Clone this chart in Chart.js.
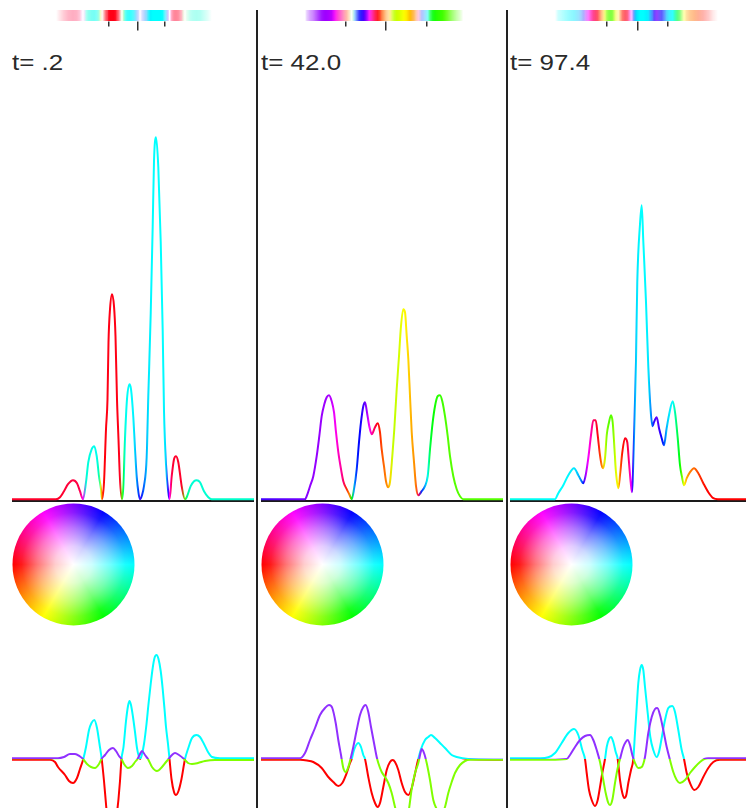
<!DOCTYPE html>
<html>
<head>
<meta charset="utf-8">
<script src="https://cdn.jsdelivr.net/npm/chart.js@4.4.1/dist/chart.umd.min.js"></script>
<style>
  html, body { margin: 0; padding: 0; background: #fff; }
  body { width: 746px; height: 808px; position: relative; overflow: hidden; }
  canvas, .sep, .time { position: absolute; }
  .sep { top: 10px; width: 2px; height: 798px; background: #222; }
  .time {
    top: 52px; color: #2a2a2a; white-space: nowrap;
    font: 22px/22px "Liberation Sans", Arial, sans-serif;
    transform: scaleX(1.18); transform-origin: 0 0;
  }
</style>
</head>
<body>
<div class="sep" style="left:256px"></div>
<div class="sep" style="left:506px"></div>
<script>
// Three snapshots of a wave packet. Top: probability density, coloured by phase,
// with a phase strip above it. Bottom: real part (cyan/red) and imaginary part
// (purple/green) of the wave function.

const timeLabels = ['t= .2', 't= 42.0', 't= 97.4'];

// --- snapshot 1 ---
const pos1 = [0, 44, 48, 52, 56, 61, 65, 68, 71, 74, 76.3, 79.7, 82.3, 84.7, 87, 89, 90, 92, 94, 95.5, 96.5, 98, 100, 102, 103.5, 105, 106.5, 108, 110, 111.5, 113, 115, 117.5, 119, 121.3, 123, 124.7, 126.5, 128, 130, 132, 134.7, 136.3, 138.7, 140.7, 142, 144, 146.3, 148.7, 150.7, 152, 154, 156.3, 157.5, 159.7, 162, 164, 166.3, 169.7, 173, 174.7, 178.7, 182, 184.7, 188, 192, 196.3, 199.7, 242];
const density1 = [0, 0, 2, 8, 15, 19, 16, 8, 0, 17, 37, 50, 53, 43, 23, 10, 0, 17, 70, 100, 157, 190, 205, 193, 163, 100, 60, 20, 0, 15, 60, 100, 115, 110, 82, 50, 22, 6, 0, 4, 13, 42, 102, 185, 273, 338, 362, 332, 258, 168, 88, 35, 7, 0, 23, 40, 43, 37, 13, 0, 2, 13, 18, 19, 17, 8, 2, 0, 0];
const hue1 = [350, 350, 350, 348, 346, 345, 345, 340, 300, 170, 172, 175, 176, 176, 160, 60, 20, 358, 356, 355, 355, 355, 355, 355, 355, 355, 355, 350, 100, 140, 175, 178, 180, 180, 182, 190, 205, 225, 260, 230, 215, 195, 185, 182, 180, 180, 180, 180, 180, 180, 182, 190, 250, 300, 345, 350, 350, 350, 350, 100, 150, 170, 170, 170, 170, 170, 168, 168, 168];
const rePos1 = [0, 38, 43, 46, 53, 57, 61, 65, 68, 71.3, 74, 77, 79.5, 82.3, 85, 87.5, 89.7, 92, 94, 96, 98, 100, 102, 103.5, 105, 106.5, 108, 109.5, 111.5, 114, 116, 117.5, 119, 121, 123, 125, 128, 129.5, 132, 134.5, 136.5, 138.7, 140.7, 142.5, 144.5, 146.5, 148.7, 150.7, 152.5, 154, 156, 157.5, 159.5, 162, 164, 166.5, 169.5, 173, 176, 180, 184.5, 188, 192, 196, 200, 208, 242];
const re1 = [-0.8, -0.8, -3, -8, -16, -22, -24, -19, -10, 0, 12, 29, 36, 39, 31, 15, 0, -22, -45, -66, -75, -78, -76, -70, -54, -40, -22, 0, 12, 38, 53, 58, 54, 42, 27, 11, 0, 3, 15, 35, 55, 75, 91, 101, 104, 100, 88, 70, 50, 32, 15, 0, -20, -33, -36, -32, -20, 0, 10, 21, 24, 22, 15, 7, 2, 0.8, 0.8];
const imPos1 = [0, 46, 52, 58, 63, 68, 71, 75, 79, 83, 87, 89.5, 93, 97, 101, 104, 107, 109.5, 112, 116, 120, 123, 125.5, 128, 130, 133, 136, 140, 145, 150, 154, 156.5, 160, 163, 167, 172, 176, 180, 186, 193, 203, 242];
const im1 = [0.8, 0.8, 2, 5, 5, 2.5, 0, -5, -8, -9, -5, 0, 4, 9, 11, 8, 3, 0, -5, -9, -7, -3, 0, 5, 8, 4, 0, -8, -12, -8, -3, 0, 4, 6, 4, 0, -4, -5, -4, -2, -1, -1];
const marks1 = [97.3, 126.3, 153];

// --- snapshot 2 ---
const pos2 = [0, 44, 45.7, 49, 52.3, 55.7, 58.3, 60.7, 63.3, 65.7, 68, 70.7, 73, 75, 77.3, 80, 82.3, 85.7, 88.3, 90.7, 93, 95.7, 98, 100, 102.3, 104, 106.3, 108.3, 110.7, 114, 116.7, 119, 120.7, 123, 125, 127.3, 129, 131.3, 133.3, 135.7, 138, 140, 142.3, 144, 145.7, 147.3, 149, 150.7, 153, 155, 157.3, 160.7, 164, 166.7, 169, 171.7, 174, 176.7, 179, 181.3, 184, 186.7, 189, 192.3, 195.7, 199, 202.3, 242];
const density2 = [0, 0, 3, 13, 23, 43, 63, 83, 95, 102, 104, 98, 87, 67, 47, 30, 18, 10, 5, 0, 10, 30, 57, 77, 93, 97, 85, 73, 65, 72, 76, 67, 50, 33, 18, 12, 17, 43, 70, 110, 143, 173, 190, 187, 163, 140, 103, 67, 37, 13, 4, 8, 13, 23, 50, 77, 93, 103, 104, 98, 83, 63, 43, 23, 10, 3, 0, 0];
const hue2 = [255, 268, 272, 274, 275, 275, 275, 276, 277, 278, 280, 285, 295, 305, 315, 322, 335, 10, 30, 120, 200, 230, 240, 245, 255, 265, 280, 300, 320, 345, 358, 8, 18, 25, 30, 38, 50, 72, 75, 72, 70, 66, 62, 58, 55, 50, 45, 40, 35, 28, 340, 230, 200, 175, 135, 122, 115, 110, 108, 105, 102, 100, 100, 100, 100, 100, 100, 100];
const rePos2 = [0, 39, 46, 52.3, 60.7, 67.3, 72.3, 77.3, 81.3, 85.7, 89, 90.7, 93, 97.3, 100, 102.3, 104, 107.3, 110.7, 114, 116.7, 119, 122.3, 125.7, 129, 131.7, 134, 137.3, 140.7, 144, 147.3, 150.7, 153.3, 156.3, 157.3, 159.7, 164, 167.3, 170, 174, 179, 184, 190.7, 195.7, 207.3, 242];
const re2 = [-0.8, -0.8, -1.5, -3, -9, -18, -23, -27, -24, -14, -4, 0, 9, 16, 12, 4, 0, -18, -34, -44, -48, -44, -28, -11, -3, -1, -3, -11, -24, -33, -36, -29, -18, -4, 0, 9, 19, 22, 24, 21, 16, 11, 4, 2, 0, -0.8];
const imPos2 = [0, 39, 44, 49, 54, 59, 64, 68, 71.3, 74.7, 77.3, 80, 82.3, 84.7, 87.3, 90, 92.3, 95.7, 99, 102.3, 104.7, 107.3, 110, 113, 115.7, 117.3, 120.7, 124, 127.3, 130.7, 134, 137, 140, 143, 146, 148, 150.7, 154, 157.3, 159.7, 160.7, 163, 165.7, 169, 172.3, 175.7, 179, 182, 184, 187.3, 190.7, 194, 199, 204, 209, 242];
const im2 = [0.8, 0.8, 6, 19, 31, 44, 51, 54, 51, 36, 19, 4, -9, -13, -8, 2, 12, 29, 44, 52, 54, 47, 32, 16, 2, -4, -13, -18, -24, -34, -48, -60, -67, -69, -62, -50, -30, -14, -4, 7, 10, 6, -4, -21, -41, -50, -53, -52, -48, -34, -23, -14, -6, -2, -0.8, -0.8];
const marks2 = [84.7, 125, 165.7];

// --- snapshot 3 ---
const pos3 = [0, 45, 48.3, 53.3, 58.3, 64, 68.3, 71, 73.3, 75.7, 78.3, 81, 83.3, 85.7, 87.7, 90, 91.7, 93.3, 95, 96.7, 99, 101, 102.7, 104.3, 106, 108.3, 110, 112.3, 115, 117.3, 119, 120.7, 122, 122.7, 124, 126, 127.3, 130, 131.7, 133.3, 136, 138.3, 140.7, 142.5, 144, 146.7, 149, 151.7, 154, 156.7, 159, 162.7, 165, 167.7, 170, 172.3, 174, 176.7, 180, 184, 188.3, 193.3, 198.3, 203.3, 208, 242];
const density3 = [0, 0, 6, 14, 24, 31, 24, 19, 16, 24, 41, 64, 79, 79, 64, 44, 34, 31, 41, 64, 77, 84, 77, 54, 27, 11, 24, 47, 61, 57, 37, 17, 7, 18, 62, 138, 217, 275, 294, 258, 197, 132, 88, 73, 77, 82, 71, 61, 54, 71, 84, 98, 87, 61, 34, 21, 14, 21, 27, 31, 26, 16, 7, 1, 0, 0];
const hue3 = [175, 180, 180, 180, 182, 185, 195, 210, 235, 280, 300, 320, 335, 345, 355, 15, 30, 45, 70, 90, 100, 100, 95, 80, 65, 55, 25, 5, 355, 350, 330, 300, 280, 250, 210, 190, 185, 180, 180, 180, 182, 185, 205, 220, 250, 265, 255, 240, 225, 195, 185, 180, 160, 135, 120, 90, 60, 40, 30, 25, 15, 5, 0, 0, 0, 0];
const rePos3 = [0, 30, 38.3, 45, 51.7, 58.3, 64, 68.3, 72.3, 75, 76.7, 79, 81.7, 85, 87.7, 90, 92.3, 95, 96.7, 99, 101, 103.3, 105.7, 107.7, 110, 112.3, 114.3, 116.3, 118.3, 121, 123.3, 125, 126.7, 128.3, 130, 131.7, 133.3, 135, 137.7, 140.3, 143.3, 146.7, 149, 151.7, 155, 158.3, 162.3, 165, 168.3, 171.7, 174, 176.7, 180, 184.3, 188.3, 193.3, 198.3, 203.3, 210, 242];
const re3 = [0.8, 0.8, 1.7, 6, 16, 26, 30, 24, 9, 0, -14, -31, -41, -47, -41, -28, -14, 0, 12, 20, 22, 17, 7, 0, -21, -34, -39, -36, -24, -11, 0, 26, 52, 76, 89, 94, 89, 72, 46, 22, 9, 2, 7, 21, 39, 51, 53, 47, 29, 9, 0, -14, -24, -31, -28, -18, -9, -3, -0.8, -0.8];
const imPos3 = [0, 40, 56.7, 60, 65, 70, 75, 80, 83.3, 86.7, 90, 93.3, 95.7, 98.3, 100, 102.3, 105, 107.3, 110, 113.3, 115.7, 117.7, 120, 122.3, 125, 128.3, 131.7, 135, 138.3, 141.7, 145, 147.3, 150, 153.3, 156.7, 160, 163.3, 166.7, 170, 175, 180, 185, 190, 194.3, 198, 242];
const im3 = [-0.8, -0.8, 0, 4, 12, 19, 23, 24, 19, 9, -3, -21, -34, -44, -46, -41, -24, -11, 0, 12, 17, 19, 14, 4, -4, -9, -8, 2, 26, 42, 50, 51, 44, 29, 12, -1, -13, -21, -24, -21, -14, -8, -3, 0, 0.8, 0.8];
const marks3 = [97.3, 127.7, 158.3];

const snapshots = [
  { label: timeLabels[0], pos: pos1, density: density1, hue: hue1, rePos: rePos1, re: re1, imPos: imPos1, im: im1, marks: marks1 },
  { label: timeLabels[1], pos: pos2, density: density2, hue: hue2, rePos: rePos2, re: re2, imPos: imPos2, im: im2, marks: marks2 },
  { label: timeLabels[2], pos: pos3, density: density3, hue: hue3, rePos: rePos3, re: re3, imPos: imPos3, im: im3, marks: marks3 }
];

// layout
const columnLeft = [12, 261, 510];
const PLOT_W = 242;
const RE_UP = '#00ffff', RE_DOWN = '#ff0000';
const IM_UP = '#9030ff', IM_DOWN = '#80ff00';

function points(xs, ys) {
  return xs.map((x, i) => ({ x, y: ys[i] }));
}

// Horizontal gradient following the phase hue of each sample
function phaseGradient(chart, s, faded) {
  const area = chart.chartArea;
  if (!area) return '#00ffff';
  const xs = chart.scales.x;
  const w = area.right - area.left;
  const peak = Math.max(...s.density);
  const g = chart.ctx.createLinearGradient(area.left, 0, area.right, 0);
  s.pos.forEach((x, i) => {
    const f = Math.min(1, Math.max(0, (xs.getPixelForValue(x) - area.left) / w));
    const a = faded ? Math.min(1, 1.4 * Math.sqrt(s.density[i] / peak)) : 1;
    g.addColorStop(f, `hsla(${s.hue[i]}, 100%, 50%, ${a})`);
  });
  return g;
}

// Vertical gradient with a hard switch at zero: one colour above, one below
function signGradient(chart, up, down) {
  const area = chart.chartArea;
  if (!area) return up;
  const zero = chart.scales.y.getPixelForValue(0);
  const f = Math.min(1, Math.max(0, (zero - area.top) / (area.bottom - area.top)));
  const g = chart.ctx.createLinearGradient(0, area.top, 0, area.bottom);
  g.addColorStop(0, up);
  g.addColorStop(f, up);
  g.addColorStop(f, down);
  g.addColorStop(1, down);
  return g;
}

// Phase strip and the three marks below it
function stripPlugin(s) {
  return {
    id: 'phaseStrip',
    afterDraw(chart) {
      const { ctx, chartArea: a, scales: { x } } = chart;
      ctx.save();
      ctx.fillStyle = phaseGradient(chart, s, true);
      ctx.fillRect(a.left, 10, a.right - a.left, 11);
      ctx.fillStyle = '#333';
      s.marks.forEach((m, i) => {
        const px = Math.round(x.getPixelForValue(m));
        ctx.fillRect(px - 1, 21.5, 1.5, i === 1 ? 9 : 5);
      });
      ctx.restore();
    }
  };
}

// Phase colour wheel: cyan = positive real, red = negative real
const phaseWheel = {
  id: 'phaseWheel',
  beforeDatasetsDraw(chart) {
    const { ctx, chartArea: a } = chart;
    const cx = a.left + 61.5, cy = 61.5, r = 61;
    ctx.save();
    ctx.beginPath();
    ctx.arc(cx, cy, r, 0, Math.PI * 2);
    if (ctx.createConicGradient) {
      const hues = ctx.createConicGradient(0, cx, cy);
      for (let k = 0; k <= 24; k++) hues.addColorStop(k / 24, `hsl(${(540 - 15 * k) % 360}, 100%, 50%)`);
      ctx.fillStyle = hues;
      ctx.fill();
    } else {
      for (let d = 0; d < 360; d += 2) {
        ctx.beginPath();
        ctx.moveTo(cx, cy);
        ctx.arc(cx, cy, r, d * Math.PI / 180, (d + 2.5) * Math.PI / 180);
        ctx.fillStyle = `hsl(${(540 - d) % 360}, 100%, 50%)`;
        ctx.fill();
      }
      ctx.beginPath();
      ctx.arc(cx, cy, r, 0, Math.PI * 2);
    }
    // wash towards white in the middle
    const white = ctx.createRadialGradient(cx, cy, 0, cx, cy, r);
    white.addColorStop(0, 'rgba(255,255,255,1)');
    white.addColorStop(0.3, 'rgba(255,255,255,0.8)');
    white.addColorStop(0.6, 'rgba(255,255,255,0.45)');
    white.addColorStop(0.85, 'rgba(255,255,255,0.1)');
    white.addColorStop(1, 'rgba(255,255,255,0)');
    ctx.fillStyle = white;
    ctx.fill();
    ctx.restore();
  }
};

const baseOptions = {
  responsive: false,
  animation: false,
  events: [],
  plugins: { legend: { display: false }, tooltip: { enabled: false } }
};

function densityChart(canvas, s) {
  return new Chart(canvas, {
    type: 'line',
    data: {
      datasets: [{
        data: points(s.pos, s.density),
        borderColor: ctx => phaseGradient(ctx.chart, s, false),
        borderWidth: 2,
        pointRadius: 0,
        cubicInterpolationMode: 'monotone'
      }]
    },
    options: {
      ...baseOptions,
      layout: { padding: { top: 100, bottom: 3, left: 0, right: 0 } },
      scales: {
        x: {
          type: 'linear', min: 0, max: PLOT_W,
          grid: { display: false, drawTicks: false },
          ticks: { display: false },
          border: { display: true, color: '#1a1a1a', width: 2 }
        },
        y: { display: false, min: -1.8, max: 399.2 }
      }
    },
    plugins: [stripPlugin(s)]
  });
}

function partsChart(canvas, s) {
  const line = { borderWidth: 2, pointRadius: 0, cubicInterpolationMode: 'monotone' };
  return new Chart(canvas, {
    type: 'line',
    data: {
      datasets: [
        { ...line, label: 'Im', data: points(s.imPos, s.im), borderColor: ctx => signGradient(ctx.chart, IM_UP, IM_DOWN) },
        { ...line, label: 'Re', data: points(s.rePos, s.re), borderColor: ctx => signGradient(ctx.chart, RE_UP, RE_DOWN) }
      ]
    },
    options: {
      ...baseOptions,
      layout: { padding: { top: 125, bottom: 0, left: 0, right: 0 } },
      scales: {
        x: { type: 'linear', display: false, min: 0, max: PLOT_W },
        y: { display: false, min: -49, max: 131 }
      }
    },
    plugins: [phaseWheel]
  });
}

function addCanvas(left, top, w, h) {
  const c = document.createElement('canvas');
  c.width = w;
  c.height = h;
  c.style.left = left + 'px';
  c.style.top = top + 'px';
  document.body.appendChild(c);
  return c;
}

snapshots.forEach((s, i) => {
  const left = columnLeft[i];
  const label = document.createElement('div');
  label.className = 'time';
  label.style.left = (left - 0.5) + 'px';
  label.textContent = s.label;
  document.body.appendChild(label);

  densityChart(addCanvas(left, 0, PLOT_W, 504), s);
  partsChart(addCanvas(left, 503, PLOT_W, 305), s);
});
</script>
</body>
</html>
